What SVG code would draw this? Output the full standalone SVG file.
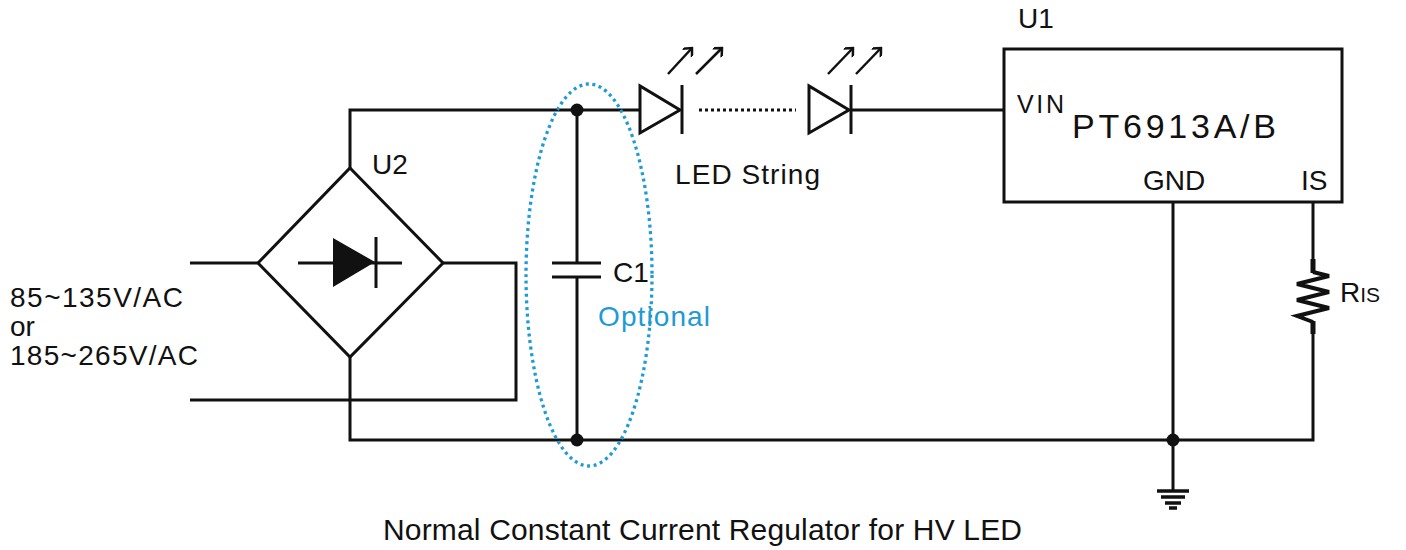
<svg xmlns="http://www.w3.org/2000/svg" width="1406" height="550" viewBox="0 0 1406 550">
<style>
.w{fill:none;stroke:#111;stroke-width:3;stroke-linejoin:miter}
.t{font-family:"Liberation Sans",Arial,sans-serif;font-size:28px;fill:#111}
.b{fill:#1e9ad6}
.dot{fill:#111}
.arr{fill:none;stroke:#111;stroke-width:2.5}
</style>
<defs>
<marker id="ah" markerWidth="12" markerHeight="12" refX="10" refY="6" orient="auto" markerUnits="userSpaceOnUse">
<path d="M3,-0.5 L10,6 L3,12.5" fill="none" stroke="#111" stroke-width="2.5"/>
</marker>
</defs>
<rect width="1406" height="550" fill="#fff"/>
<g id="connectors">
<path class="w" d="M350,168 V110 H640"/>
<path class="w" d="M850,110 H1004"/>
<path class="w" d="M577,110 V263 M577,277 V440"/>
<path class="w" d="M443,263 H516 V400 H190"/>
<path class="w" d="M190,263 H258"/>
<path class="w" d="M350,357 V440 H1313 V333"/>
<path class="w" d="M1173,202 V490"/>
<path class="w" d="M1313,202 V260"/>
<path d="M699,110 H796" fill="none" stroke="#111" stroke-width="3" stroke-dasharray="3 3"/>
</g>
<g id="U2">
<polygon class="w" points="350,168 443,263 350,357 258,263"/>
<path class="w" d="M298,263 H402 M376,237 V288"/>
<polygon points="333,238 333,287 375,262" fill="#111"/>
<text class="t" x="372" y="174">U2</text>
</g>
<g id="C1">
<path class="w" d="M552,263 H601 M552,277 H601"/>
<circle class="dot" cx="577" cy="110" r="6.5"/>
<circle class="dot" cx="577" cy="440" r="6.5"/>
<text class="t" x="613" y="282">C1</text>
<text class="t b" x="598" y="326" textLength="112" lengthAdjust="spacing">Optional</text>
<ellipse cx="589" cy="275" rx="63" ry="191" fill="none" stroke="#1e9ad6" stroke-width="3.3" stroke-dasharray="3 3.6"/>
</g>
<g id="LED1">
<polygon class="w" points="640,86 640,133 680,110"/>
<path class="w" d="M682,85 V134"/>
<path class="arr" d="M668,74 L692,48" marker-end="url(#ah)"/>
<path class="arr" d="M696,74 L722,48" marker-end="url(#ah)"/>
</g>
<g id="LED2">
<polygon class="w" points="809,86 809,133 849,110"/>
<path class="w" d="M851,85 V134"/>
<path class="arr" d="M828,74 L853,48" marker-end="url(#ah)"/>
<path class="arr" d="M856,74 L881,48" marker-end="url(#ah)"/>
<text class="t" x="675" y="184" textLength="145" lengthAdjust="spacing">LED String</text>
</g>
<g id="U1">
<rect class="w" x="1004" y="49" width="338" height="153"/>
<text class="t" x="1018" y="28">U1</text>
<text class="t" x="1017" y="113" style="font-size:25px" textLength="47" lengthAdjust="spacing">VIN</text>
<text class="t" x="1072" y="138" style="font-size:34px" textLength="204" lengthAdjust="spacing">PT6913A/B</text>
<text class="t" x="1143" y="190">GND</text>
<text class="t" x="1301" y="190">IS</text>
</g>
<g id="RIS">
<path d="M1313,259 V273 M1313,321 V334" fill="none" stroke="#111" stroke-width="5"/>
<path d="M1313,272 L1329,276 L1297,284 L1329,292 L1297,300 L1329,308 L1297,316 L1313,322" fill="none" stroke="#111" stroke-width="4" stroke-linejoin="miter"/>
<text class="t" x="1340" y="302">R<tspan style="font-size:21px">IS</tspan></text>
</g>
<g id="GND">
<circle class="dot" cx="1173" cy="440" r="6.5"/>
<path d="M1157,491 H1189 M1161,497 H1185 M1165,503 H1181 M1169,508 H1177" fill="none" stroke="#111" stroke-width="3.5"/>
</g>
<g id="input">
<text class="t" x="10" y="307" textLength="173" lengthAdjust="spacing">85~135V/AC</text>
<text class="t" x="10" y="336">or</text>
<text class="t" x="10" y="365" textLength="188" lengthAdjust="spacing">185~265V/AC</text>
</g>
<text class="t" x="383" y="540" style="font-size:30px" textLength="639" lengthAdjust="spacing">Normal Constant Current Regulator for HV LED</text>
</svg>
